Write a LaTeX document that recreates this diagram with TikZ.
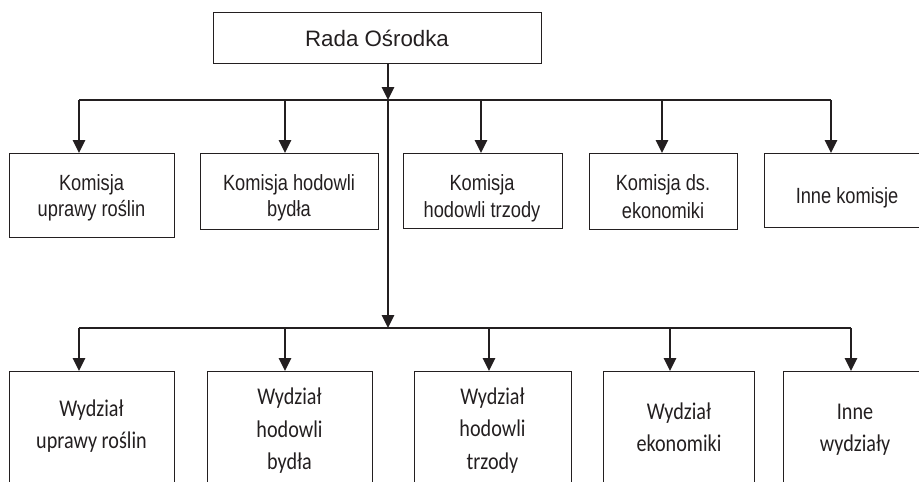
\documentclass[tikz,border=0pt]{standalone}
\usepackage{fontspec}
\usepackage{graphicx}
\setmainfont{Liberation Sans}
\newfontfamily\carl{Carlito}
\usetikzlibrary{arrows.meta}
\definecolor{ink}{HTML}{231F20}
\newcommand\nrA[1]{\scalebox{0.83}[1]{#1}}
\newcommand\nrB[1]{\scalebox{0.84}[1]{#1}}
\begin{document}
\begin{tikzpicture}[x=1pt,y=-1pt,
  box/.style={draw=ink,line width=1.2pt,inner sep=0pt,anchor=north west},
  conn/.style={draw=ink,line width=2.6pt,-{Triangle[length=13pt,width=12pt]}},
  bus/.style={draw=ink,line width=2pt},
  ta/.style={text=ink,font=\fontsize{22}{26}\selectfont,inner sep=0pt,anchor=base},
  tr/.style={text=ink,font=\fontsize{22.3}{26}\selectfont,inner sep=0pt,anchor=base},
  tb/.style={text=ink,font=\carl\fontsize{24}{28}\selectfont,inner sep=0pt,anchor=base}]
\useasboundingbox (0,0) rectangle (919,482);
\clip (0,0) rectangle (919,482);
% top box
\node[box,minimum width=328pt,minimum height=51pt] (rada) at (213,12) {};
\node[tr] (radat) at (377,46.5) {Rada Ośrodka};
% row 1 boxes
\node[box,minimum width=165pt,minimum height=84pt] (k1) at (9,153) {};
\node[box,minimum width=178pt,minimum height=76pt] (k2) at (200,153) {};
\node[box,minimum width=159pt,minimum height=75pt] (k3) at (403,153) {};
\node[box,minimum width=148pt,minimum height=76pt] (k4) at (589,153) {};
\node[box,minimum width=166pt,minimum height=74pt] (k5) at (764,153) {};
\node[ta] (k1a) at (91.5,190.5) {\nrA{Komisja}};
\node[ta] (k1b) at (91.5,216.5) {\nrA{uprawy roślin}};
\node[ta] (k2a) at (289,190.5) {\nrA{Komisja hodowli}};
\node[ta] (k2b) at (289,216.5) {\nrA{bydła}};
\node[ta] (k3a) at (482,190) {\nrA{Komisja}};
\node[ta] (k3b) at (482,217.5) {\nrA{hodowli trzody}};
\node[ta] (k4a) at (663,190.5) {\nrA{Komisja ds.}};
\node[ta] (k4b) at (663,218) {\nrA{ekonomiki}};
\node[ta] (k5a) at (847,203.5) {\nrA{Inne komisje}};
% row 2 boxes
\node[box,minimum width=165pt,minimum height=160pt] (w1) at (9,371) {};
\node[box,minimum width=165pt,minimum height=160pt] (w2) at (207,371) {};
\node[box,minimum width=157pt,minimum height=160pt] (w3) at (414,371) {};
\node[box,minimum width=151pt,minimum height=160pt] (w4) at (603,371) {};
\node[box,minimum width=146pt,minimum height=160pt] (w5) at (783,371) {};
\node[tb] (w1a) at (91.5,416.5) {\nrB{Wydział}};
\node[tb] (w1b) at (91.5,448.5) {\nrB{uprawy roślin}};
\node[tb] (w2a) at (289.5,404.5) {\nrB{Wydział}};
\node[tb] (w2b) at (289.5,437) {\nrB{hodowli}};
\node[tb] (w2c) at (289.5,469.5) {\nrB{bydła}};
\node[tb] (w3a) at (492.5,404) {\nrB{Wydział}};
\node[tb] (w3b) at (492.5,436.5) {\nrB{hodowli}};
\node[tb] (w3c) at (492.5,469) {\nrB{trzody}};
\node[tb] (w4a) at (679,419.5) {\nrB{Wydział}};
\node[tb] (w4b) at (679,451.5) {\nrB{ekonomiki}};
\node[tb] (w5a) at (855,419.5) {\nrB{Inne}};
\node[tb] (w5b) at (855,451) {\nrB{wydziały}};
% junctions
\coordinate (j1) at (388,100);
\coordinate (j2) at (388,328);
\coordinate (b1l) at (79,100);
\coordinate (b1r) at (831,100);
\coordinate (b2l) at (79,328);
\coordinate (b2r) at (851,328);
\coordinate (d12) at (285,100);
\coordinate (d13) at (481,100);
\coordinate (d14) at (662,100);
\coordinate (d22) at (285,328);
\coordinate (d23) at (489,328);
\coordinate (d24) at (670,328);
% buses
\draw[bus] (b1l) -- (b1r);
\draw[bus] (b2l) -- (b2r);
% trunk
\draw[conn] (rada.south -| j1) -- (j1);
\draw[conn] (j1) -- (j2);
% drops row 1
\draw[conn] (b1l) -- (b1l |- k1.north);
\draw[conn] (d12) -- (d12 |- k2.north);
\draw[conn] (d13) -- (d13 |- k3.north);
\draw[conn] (d14) -- (d14 |- k4.north);
\draw[conn] (b1r) -- (b1r |- k5.north);
% drops row 2
\draw[conn] (b2l) -- (b2l |- w1.north);
\draw[conn] (d22) -- (d22 |- w2.north);
\draw[conn] (d23) -- (d23 |- w3.north);
\draw[conn] (d24) -- (d24 |- w4.north);
\draw[conn] (b2r) -- (b2r |- w5.north);
\end{tikzpicture}
\end{document}
